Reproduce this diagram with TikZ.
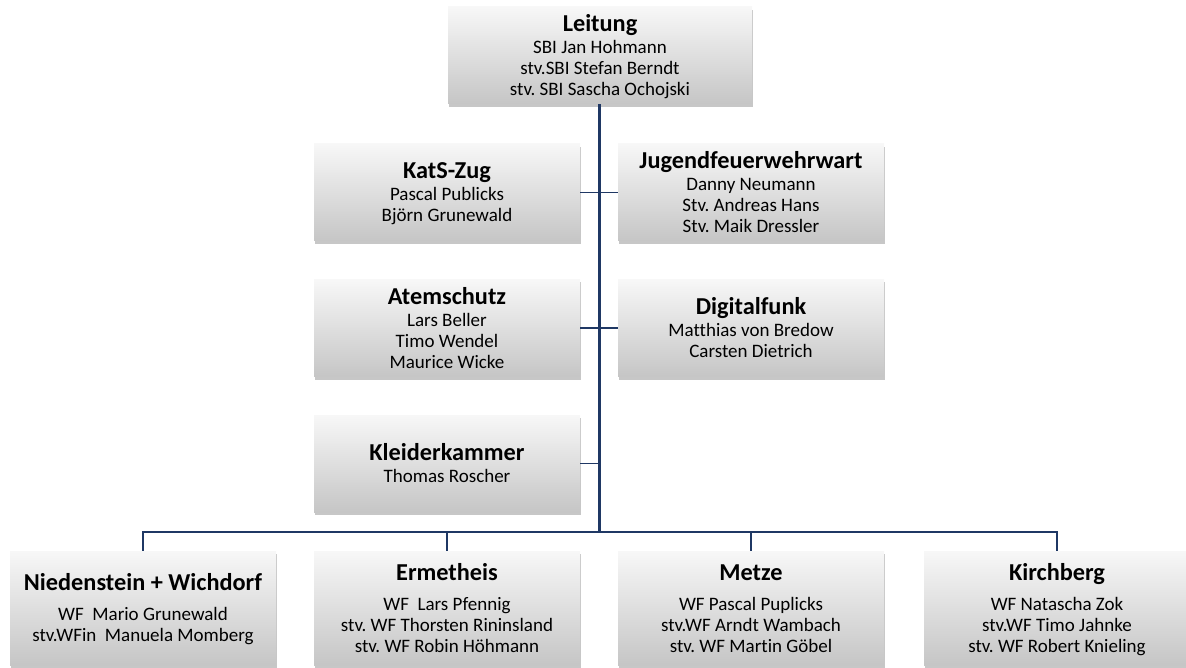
\documentclass[tikz,border=0pt]{standalone}
\usepackage{fontspec}
\setmainfont{Carlito}[Ligatures=CommonOff]
\usetikzlibrary{shadows}
\frenchspacing
\definecolor{linie}{RGB}{31,56,100}
\newcommand{\ttl}[1]{{\fontsize{24.3}{24}\selectfont\bfseries\rule{0pt}{21pt}#1}}
\tikzset{
  amt/.style={minimum width=266pt, minimum height=97pt, inner sep=0pt, align=center,
    top color=gray!6, bottom color=gray!45,
    drop shadow={shadow xshift=1pt, shadow yshift=-3pt, fill=black, opacity=0.22},
    font=\fontsize{19}{21}\selectfont,
    execute at end node={\rule[-5pt]{0pt}{5pt}}},
  wehr/.style={amt, minimum height=114pt},
  ast/.style={draw=linie, line width=1.8pt},
  stamm/.style={draw=linie, line width=2.6pt}
}
\begin{document}
\begin{tikzpicture}[x=1pt,y=-1pt]
	\useasboundingbox (0,0) rectangle (1186,668);
	% columns
  \def\colL{447}
  \def\colR{751}
  \def\trunk{599.5}

	\node[amt, minimum width=304pt] (leit) at (600,55.5) {\ttl{Leitung}\\[1pt]SBI Jan Hohmann\\stv.SBI Stefan Berndt\\stv. SBI Sascha Ochojski};

  \node[amt] (kats) at (\colL,192.5) {\ttl{KatS-Zug}\\[1pt]Pascal Publicks\\Björn Grunewald};
  \node[amt] (jugend) at (\colR,192.5) {\ttl{Jugendfeuerwehrwart}\\[1pt]Danny Neumann\\Stv. Andreas Hans\\Stv. Maik Dressler};
  \node[amt] (atem) at (\colL,328) {\ttl{Atemschutz}\\[1pt]Lars Beller\\Timo Wendel\\Maurice Wicke};
  \node[amt] (digi) at (\colR,328) {\ttl{Digitalfunk}\\[1pt]Matthias von Bredow\\Carsten Dietrich};
  \node[amt] (kleider) at (\colL,463.5) {\ttl{Kleiderkammer}\\[1pt]Thomas Roscher};

  % Wehren
  \node[wehr] (nied) at (143,608) {\ttl{Niedenstein + Wichdorf}\\[9pt]WF\ \ Mario Grunewald\\stv.WFin\ \ Manuela Momberg};
  \node[wehr] (erm) at (\colL,608) {\ttl{Ermetheis}\\[9pt]WF\ \ Lars Pfennig\\stv. WF Thorsten Rininsland\\stv. WF Robin Höhmann};
  \node[wehr] (metze) at (\colR,608) {\ttl{Metze}\\[9pt]WF Pascal Puplicks\\stv.WF Arndt Wambach\\stv. WF Martin Göbel};
  \node[wehr] (kirch) at (1057,608) {\ttl{Kirchberg}\\[9pt]WF Natascha Zok\\stv.WF Timo Jahnke\\stv. WF Robert Knieling};

  \coordinate (bus) at (\trunk,532);% junction of trunk and bus

  \draw[stamm] (leit.south -| bus) -- (bus);% trunk
  \draw[ast] (kats.east) -- (jugend.west);
  \draw[ast] (atem.east) -- (digi.west);
  \draw[ast] (kleider.east) -- (kleider.east -| bus);
  \draw[ast] (nied.north) -- (nied.north |- bus) -- (kirch.north |- bus) -- (kirch.north);% bus
  \draw[ast] (erm.north) -- (erm.north |- bus);
  \draw[ast] (metze.north) -- (metze.north |- bus);
\end{tikzpicture}
\end{document}
